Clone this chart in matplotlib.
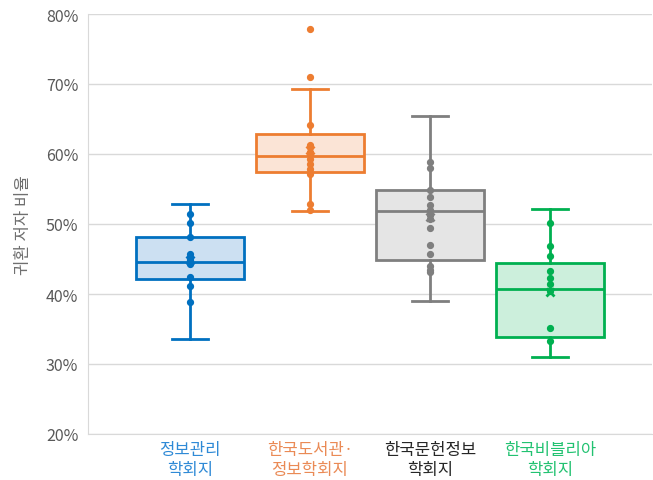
import numpy
from matplotlib import pyplot

# use a Korean font for all text
pyplot.rcParams['font.family'] = ['Noto Sans CJK KR', 'DejaVu Sans']

# journal names (tick labels)
journals = ['정보관리\n학회지', '한국도서관·\n정보학회지', '한국문헌정보\n학회지', '한국비블리아\n학회지']

# box statistics (percent)
q1 = [42.1, 57.5, 44.9, 33.9]
med = [44.6, 59.7, 51.9, 40.7]
q3 = [48.1, 62.8, 54.9, 44.4]
whislo = [33.6, 51.8, 39.0, 31.0]
whishi = [52.8, 69.3, 65.4, 52.2]
means = [44.8, 60.6, 51.0, 40.3]

# individual journal values shown as dots (percent)
pts_info = [51.5, 50.1, 48.1, 45.7, 45.2, 44.8, 44.3, 42.5, 41.2, 38.8]
pts_lib = [77.9, 71.0, 64.1, 61.3, 61.0, 60.3, 60.0, 59.3, 58.6, 57.9,
           57.2, 52.8, 52.0]
pts_doc = [58.8, 58.0, 54.9, 53.8, 52.7, 52.0, 51.3, 50.7, 49.5, 47.0,
           45.7, 44.0, 43.5, 43.1]
pts_bib = [50.1, 46.8, 45.4, 43.3, 42.3, 41.5, 40.5, 35.2, 33.3]
points = [pts_info, pts_lib, pts_doc, pts_bib]

# colours
cols = ['#0070C0', '#ED7D31', '#7F7F7F', '#00B050']
fills = ['#CCE0F2', '#FBE4D6', '#E5E5E5', '#CCEFDC']
labcols = ['#2F8AD6', '#EA8A55', '#262626', '#22C271']

fig = pyplot.figure(figsize=(6.53, 4.81), dpi=100)
ax = fig.add_axes([88 / 653, 46 / 481, 564 / 653, 420 / 481])

pos = numpy.arange(1, len(journals) + 1)
for i in range(len(journals)):
    stats = [{'q1': q1[i], 'med': med[i], 'q3': q3[i], 'whislo': whislo[i],
              'whishi': whishi[i], 'mean': means[i], 'fliers': []}]
    lw = 2.0
    ax.bxp(stats, positions=[pos[i]], widths=0.9, patch_artist=True,
           showfliers=False, showmeans=False,
           boxprops=dict(facecolor=fills[i], edgecolor=cols[i], linewidth=lw),
           medianprops=dict(color=cols[i], linewidth=lw),
           whiskerprops=dict(color=cols[i], linewidth=lw),
           capprops=dict(color=cols[i], linewidth=lw), capwidths=0.3,
           zorder=2)
    # inner points
    ax.plot([pos[i]] * len(points[i]), points[i], 'o', markersize=4.2,
            markerfacecolor=cols[i], markeredgecolor=cols[i],
            markeredgewidth=1.0, zorder=3)
    # mean marker
    ax.plot(pos[i], means[i], 'x', markersize=5.5, color=cols[i],
            markeredgewidth=2.0, zorder=4)

# axis limits and ticks
ax.set_xlim(1 - 102 / 120, 4 + 102 / 120)
ax.set_ylim(20, 80)
ax.set_yticks(numpy.arange(20, 81, 10))
ax.set_yticklabels(['%d%%' % v for v in range(20, 81, 10)],
                   fontsize=11.5, color='#595959')
ax.set_xticks(pos)
ax.set_xticklabels(journals, fontsize=12, linespacing=1.25)
for lab, c in zip(ax.get_xticklabels(), labcols):
    lab.set_color(c)
ax.tick_params(axis='both', length=0)
ax.tick_params(axis='y', pad=7)
ax.tick_params(axis='x', pad=5)

# grid and spines
ax.grid(axis='y', color='#D9D9D9', linewidth=1.0, zorder=0)
ax.set_axisbelow(True)
for side in ['top', 'right']:
    ax.spines[side].set_visible(False)
ax.spines['left'].set_color('#D9D9D9')
ax.spines['bottom'].set_color('#D9D9D9')

ax.set_ylabel('귀환 저자 비율', fontsize=12, color='#6F6F6F', labelpad=10)

fig.savefig('out.png')
